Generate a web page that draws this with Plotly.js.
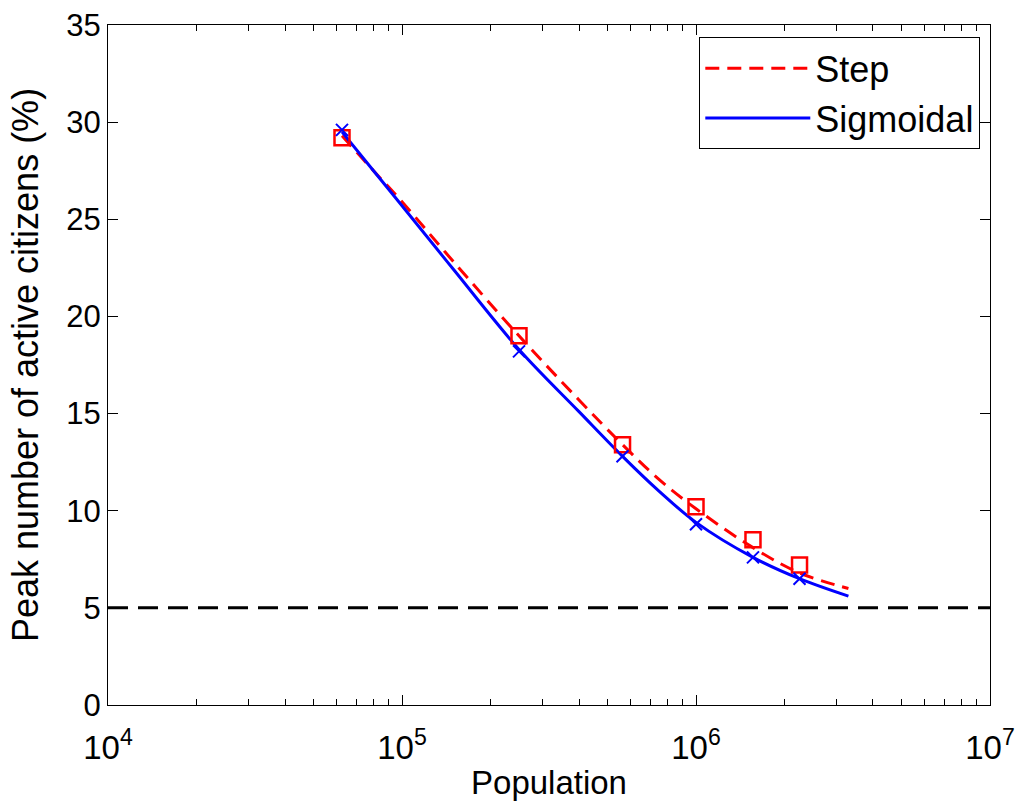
<!DOCTYPE html>
<html>
<head>
<meta charset="utf-8">
<script src="https://cdn.plot.ly/plotly-3.0.1.min.js"></script>
<style>html,body{margin:0;padding:0;background:#fff;}#chart{width:1019px;height:805px;}</style>
</head>
<body>
<div id="chart"></div>
<script>
// Fitted curves
var curvePopulation = [62500, 80000, 100000, 150000, 250000, 400000, 562500, 750000, 1000000, 1562500, 2250000, 3300000];
var stepCurve      = [29.3, 27.5, 25.9, 22.8, 19.0, 15.7, 13.4, 11.6, 10.1, 8.1, 6.8, 6.0];
var sigmoidCurve   = [29.5, 27.5, 25.7, 22.4, 18.3, 15.1, 12.8, 11.0, 9.4, 7.6, 6.5, 5.6];
// Simulated points
var pointPopulation = [62500, 250000, 562500, 1000000, 1562500, 2250000];
var stepPoints      = [29.2, 19.0, 13.4, 10.2, 8.5, 7.2];
var sigmoidPoints   = [29.6, 18.2, 12.8, 9.3, 7.6, 6.5];
// Threshold line
var thresholdX = [10000, 10000000];
var thresholdY = [5, 5];
// Axis ticks
var xTickVals = [10000, 100000, 1000000, 10000000];
var xTickText = ['10<sup>4</sup>', '10<sup>5</sup>', '10<sup>6</sup>', '10<sup>7</sup>'];

var FONT = 'Liberation Sans, Arial, Helvetica, sans-serif';

var traces = [
  {x: thresholdX, y: thresholdY, mode: 'lines', showlegend: false, hoverinfo: 'skip',
   line: {color: '#000000', width: 3, dash: '20px,10px'}},
  {x: curvePopulation, y: stepCurve, mode: 'lines', name: 'Step', legendgroup: 'a',
   line: {color: '#ff0000', width: 3, dash: '14px,8px', shape: 'spline'}},
  {x: curvePopulation, y: sigmoidCurve, mode: 'lines', name: 'Sigmoidal', legendgroup: 'b',
   line: {color: '#0000ff', width: 3, shape: 'spline'}},
  {x: pointPopulation, y: stepPoints, mode: 'markers', showlegend: false,
   marker: {symbol: 'square-open', size: 15, color: '#ff0000', line: {width: 2.5, color: '#ff0000'}}},
  {x: pointPopulation, y: sigmoidPoints, mode: 'markers', showlegend: false,
   marker: {symbol: 'x-thin-open', size: 12, color: '#0000ff', line: {width: 2, color: '#0000ff'}}}
];

var layout = {
  width: 1019, height: 805,
  margin: {l: 108, r: 29, t: 25, b: 100},
  paper_bgcolor: '#ffffff', plot_bgcolor: '#ffffff',
  font: {family: FONT, size: 32, color: '#000000'},
  showlegend: true,
  legend: {
    x: 0.989, y: 0.982, xanchor: 'right', yanchor: 'top',
    bordercolor: '#000000', borderwidth: 1, bgcolor: '#ffffff',
    font: {family: FONT, size: 36, color: '#000000'},
    traceorder: 'grouped', tracegroupgap: 0, itemwidth: 105
  },
  xaxis: {
    type: 'log', range: [3.99995, 7.00005],
    tickmode: 'array', tickvals: xTickVals, ticktext: xTickText,
    ticks: 'inside', ticklen: 10, tickwidth: 1, tickcolor: '#000',
    ticklabeloverflow: 'allow', ticklabelstandoff: 13,
    showline: true, linecolor: '#000', linewidth: 1, mirror: 'ticks',
    showgrid: false, zeroline: false,
    tickfont: {family: FONT, size: 33, color: '#000'},
    minor: {ticks: 'inside', ticklen: 6, tickcolor: '#000', showgrid: false, dtick: 'D1'},
    title: {text: 'Population', font: {family: FONT, size: 33, color: '#000'}, standoff: 6}
  },
  yaxis: {
    range: [0, 35], dtick: 5,
    ticks: 'inside', ticklen: 10, tickwidth: 1, tickcolor: '#000',
    showline: true, linecolor: '#000', linewidth: 1, mirror: 'ticks',
    showgrid: false, zeroline: false,
    tickfont: {family: FONT, size: 31, color: '#000'},
    title: {text: 'Peak number of active citizens (%)', font: {family: FONT, size: 36, color: '#000'}, standoff: 16}
  }
};

Plotly.newPlot('chart', traces, layout, {displayModeBar: false, staticPlot: true});
</script>
</body>
</html>
